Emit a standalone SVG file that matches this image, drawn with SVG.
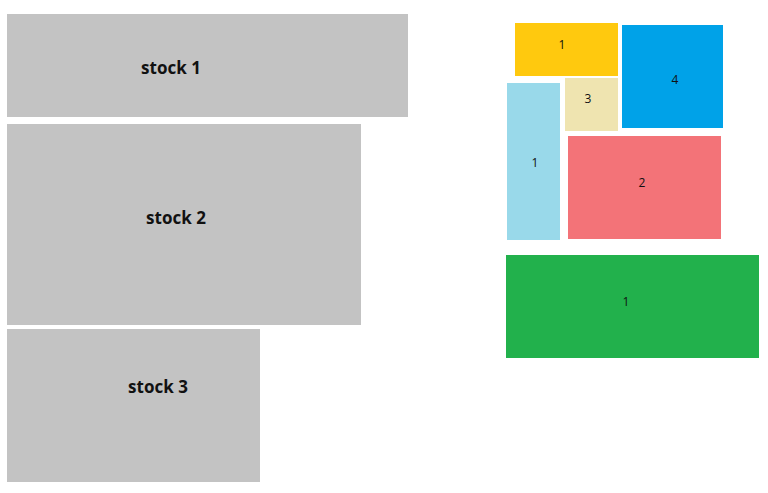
<svg xmlns="http://www.w3.org/2000/svg" width="768" height="493" viewBox="0 0 768 493">
<style>
.stock{fill:#c3c3c3}
.big{font-family:"Open Sans","Liberation Sans",sans-serif;font-weight:bold;font-size:17px;fill:#111;text-anchor:middle}
.small{font-family:"Open Sans","Liberation Sans",sans-serif;font-size:12px;fill:#111;text-anchor:middle}
</style>
<rect width="768" height="493" fill="#fff"/>
<g id="stock1"><rect class="stock" x="7" y="14" width="401" height="103"/><text class="big" x="171" y="74">stock 1</text></g>
<g id="stock2"><rect class="stock" x="7" y="124" width="354" height="201"/><text class="big" x="176" y="224">stock 2</text></g>
<g id="stock3"><rect class="stock" x="7" y="329" width="253" height="153"/><text class="big" x="158" y="393">stock 3</text></g>
<g id="piece-orange"><rect x="515" y="23" width="103" height="53" fill="#ffc90e"/><text class="small" x="562" y="49">1</text></g>
<g id="piece-blue"><rect x="622" y="25" width="101" height="103" fill="#00a2e8"/><text class="small" x="675" y="84">4</text></g>
<g id="piece-beige"><rect x="565" y="78" width="53" height="53" fill="#efe4b0"/><text class="small" x="588" y="103">3</text></g>
<g id="piece-lightblue"><rect x="507" y="83" width="53" height="157" fill="#99d9ea"/><text class="small" x="535" y="167">1</text></g>
<g id="piece-red"><rect x="568" y="136" width="153" height="103" fill="#f37378"/><text class="small" x="642" y="187">2</text></g>
<g id="piece-green"><rect x="506" y="255" width="253" height="103" fill="#22b14c"/><text class="small" x="626" y="306">1</text></g>
<g id="connectors"></g>
</svg>
